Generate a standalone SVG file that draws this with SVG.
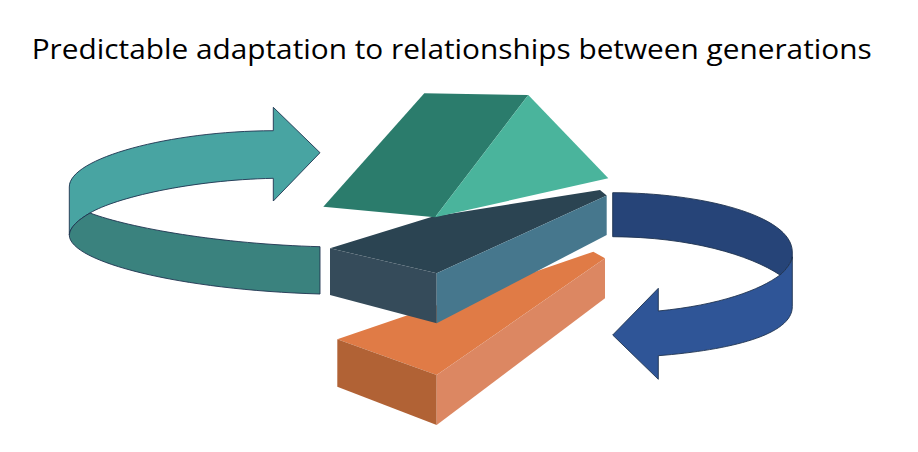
<svg xmlns="http://www.w3.org/2000/svg" width="918" height="452" viewBox="0 0 918 452">
<style>
.title{font-family:"Open Sans","Liberation Sans",sans-serif;font-size:28px;fill:#000}
.arw{stroke:#1F3350;stroke-width:0.9;stroke-linejoin:round}
</style>
<rect width="918" height="452" fill="#fff"/>
<text class="title" x="31.7" y="59" textLength="840" lengthAdjust="spacingAndGlyphs">Predictable adaptation to relationships between generations</text>
<g id="connectors">
<g id="left-arrow">
<path class="arw" fill="#48A4A2" d="M69.3,187 C69,158 170,131 273.3,130.7 L273.3,107.3 L320,152.7 L273.3,201 L273.3,178.3 C190,180 115,198 90,213 C78,220 70,227 69.3,235 Z"/>
<path class="arw" fill="#3A827E" d="M69.3,235 C70,227 78,220 90,213 C130,228 220,244 320,246.7 L320,294 C180,290 69.3,262 69.3,235 Z"/>
</g>
<g id="right-arrow">
<path class="arw" fill="#264478" d="M612.7,192.7 C700,192.7 792.3,215 792.3,252 L792.3,256.7 C792,262 786,270 780,275 C750,255 690,237 612.7,236.7 Z"/>
<path class="arw" fill="#2F5597" d="M792.3,256.7 C792,262 786,270 780,275 C760,290 720,305 658.3,311 L658.3,288.3 L612.7,335 L658.3,379.3 L658.3,355.7 C730,350 792.3,335 792.3,306.7 Z"/>
</g>
</g>
<g id="orange-box">
<polygon fill="#E07B46" points="337.3,339.3 593.3,251.7 605,258.3 436.7,375"/>
<polygon fill="#B16235" points="337.3,339.3 436.7,375 436.7,425 337.3,386.7"/>
<polygon fill="#DC8762" points="436.7,375 605,258.3 605,298.3 436.7,425"/>
</g>
<g id="dark-box">
<polygon fill="#2B4452" points="330,248.3 433,216.5 600,190 606.7,195.5 436.7,273.3"/>
<polygon fill="#354B5A" points="330,248.3 436.7,273.3 436.7,323.3 330,295"/>
<polygon fill="#46778D" points="436.7,273.3 606.7,195.5 606.7,235 436.7,323.3"/>
</g>
<g id="roof">
<polygon fill="#2B7C6C" points="424.3,93.3 528.3,95 435,217.3 323.3,206.7"/>
<polygon fill="#4AB49C" points="528.3,95 608.3,178.3 435,217.3"/>
</g>
</svg>
